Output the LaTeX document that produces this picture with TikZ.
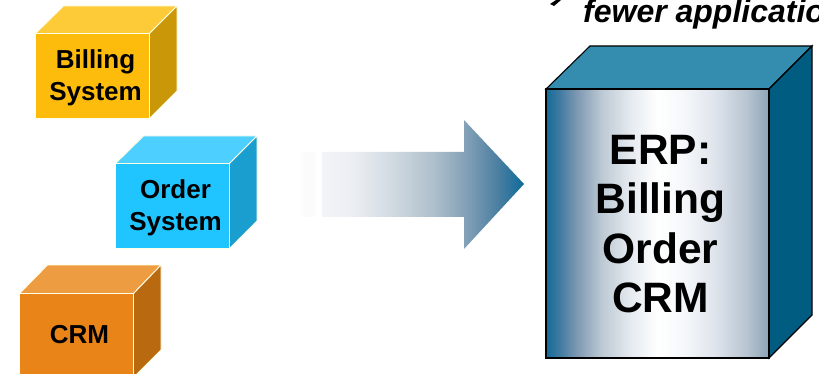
\documentclass[tikz,border=0pt]{standalone}
\usepackage{fontspec}
\setmainfont{Liberation Sans}
\definecolor{yfront}{HTML}{FDBB0B}
\definecolor{ytop}{HTML}{FDCB38}
\definecolor{yside}{HTML}{C99707}
\definecolor{bfront}{HTML}{20C4FF}
\definecolor{btop}{HTML}{4DCFFF}
\definecolor{bside}{HTML}{1A9DCF}
\definecolor{ofront}{HTML}{E98418}
\definecolor{otop}{HTML}{EE9C42}
\definecolor{oside}{HTML}{B96A11}
\definecolor{tealD}{HTML}{005C80}
\definecolor{tealT}{HTML}{348DAF}
% TikZ maps the middle 50bp of a 100bp shading onto the path's box
\pgfdeclarehorizontalshading{erpshade}{100bp}{
  rgb(0bp)=(0.07,0.42,0.60);
  rgb(25bp)=(0.07,0.42,0.60);
  rgb(28bp)=(0.25,0.48,0.63);
  rgb(32bp)=(0.50,0.60,0.70);
  rgb(37.5bp)=(0.74,0.79,0.83);
  rgb(44bp)=(0.90,0.92,0.94);
  rgb(50bp)=(1,1,1);
  rgb(56bp)=(0.96,0.97,0.98);
  rgb(62.5bp)=(0.88,0.90,0.93);
  rgb(70bp)=(0.72,0.77,0.82);
  rgb(75bp)=(0.55,0.64,0.72);
  rgb(100bp)=(0.55,0.64,0.72)}
\pgfdeclarehorizontalshading{arrowshade}{100bp}{
  rgb(0bp)=(1,1,1);
  rgb(25bp)=(1,1,1);
  rgb(26bp)=(0.985,0.985,0.985);
  rgb(28.4bp)=(0.985,0.985,0.985);
  rgb(28.5bp)=(1,1,1);
  rgb(29.9bp)=(1,1,1);
  rgb(30bp)=(0.95,0.96,0.97);
  rgb(37.5bp)=(0.92,0.93,0.95);
  rgb(45bp)=(0.83,0.86,0.89);
  rgb(55bp)=(0.68,0.75,0.80);
  rgb(62.5bp)=(0.50,0.62,0.71);
  rgb(69bp)=(0.30,0.50,0.63);
  rgb(75bp)=(0.05,0.42,0.60);
  rgb(100bp)=(0.05,0.42,0.60)}
\tikzset{
  x=1pt,y=-1pt,
  cubeedge/.style={draw=white!90!yellow,line width=0.9pt,line join=round},
  lab/.style={font=\bfseries\fontsize{26}{32}\selectfont,align=center,text=black,inner sep=0pt},
  biglab/.style={font=\bfseries\fontsize{42.5}{49.5}\selectfont,align=center,text=black,inner sep=0pt},
  erpedge/.style={draw=black,line width=1.1pt,line join=miter},
}
\begin{document}
\begin{tikzpicture}
\useasboundingbox (0,0) rectangle (819,374);
% Billing cube
\fill[ytop,cubeedge] (35.5,33.5) -- (63.5,6) -- (177,6) -- (149.5,33.5) -- cycle;
\fill[yside,cubeedge] (149.5,33.5) -- (177,6) -- (177,91) -- (149.5,118.5) -- cycle;
\fill[yfront,cubeedge] (35.5,33.5) rectangle (149.5,118.5);
\node[lab] (billing) at (95.5,77.5) {Billing\\System};
% Order cube
\fill[btop,cubeedge] (115.5,163.5) -- (143.5,136) -- (257,136) -- (229.5,163.5) -- cycle;
\fill[bside,cubeedge] (229.5,163.5) -- (257,136) -- (257,221) -- (229.5,248.5) -- cycle;
\fill[bfront,cubeedge] (115.5,163.5) rectangle (229.5,248.5);
\node[lab] (order) at (175.5,207.5) {Order\\System};
% CRM cube
\fill[otop,cubeedge] (19.5,293.5) -- (47.5,265) -- (161,265) -- (133.5,293.5) -- cycle;
\fill[oside,cubeedge] (133.5,293.5) -- (161,265) -- (161,350) -- (133.5,377.5) -- cycle;
\fill[ofront,cubeedge] (19.5,293.5) rectangle (133.5,378);
\node[lab] (crm) at (79.5,334.5) {CRM};
% Arrow
\shade[shading=arrowshade] (299,152) -- (464,152) -- (464,120) -- (524,184) -- (464,249) -- (464,217) -- (299,217) -- cycle;
% ERP box
\fill[tealT,erpedge] (546,89) -- (590,46) -- (812,46) -- (769,89) -- cycle;
\fill[tealD,erpedge] (769,89) -- (812,46) -- (812,315) -- (769,358) -- cycle;
\shade[shading=erpshade,erpedge] (546,89) rectangle (769,358);
\node[biglab] (erp) at (660.5,224) {ERP:\\Billing\\Order\\CRM};
\node[anchor=base west,inner sep=0pt,font=\bfseries\itshape\fontsize{32}{36}\selectfont] (fewer) at (583,23) {fewer applications};
\fill[black] (550,4) -- (554,6) -- (561,0) -- (556,0) -- cycle;
\end{tikzpicture}
\end{document}
